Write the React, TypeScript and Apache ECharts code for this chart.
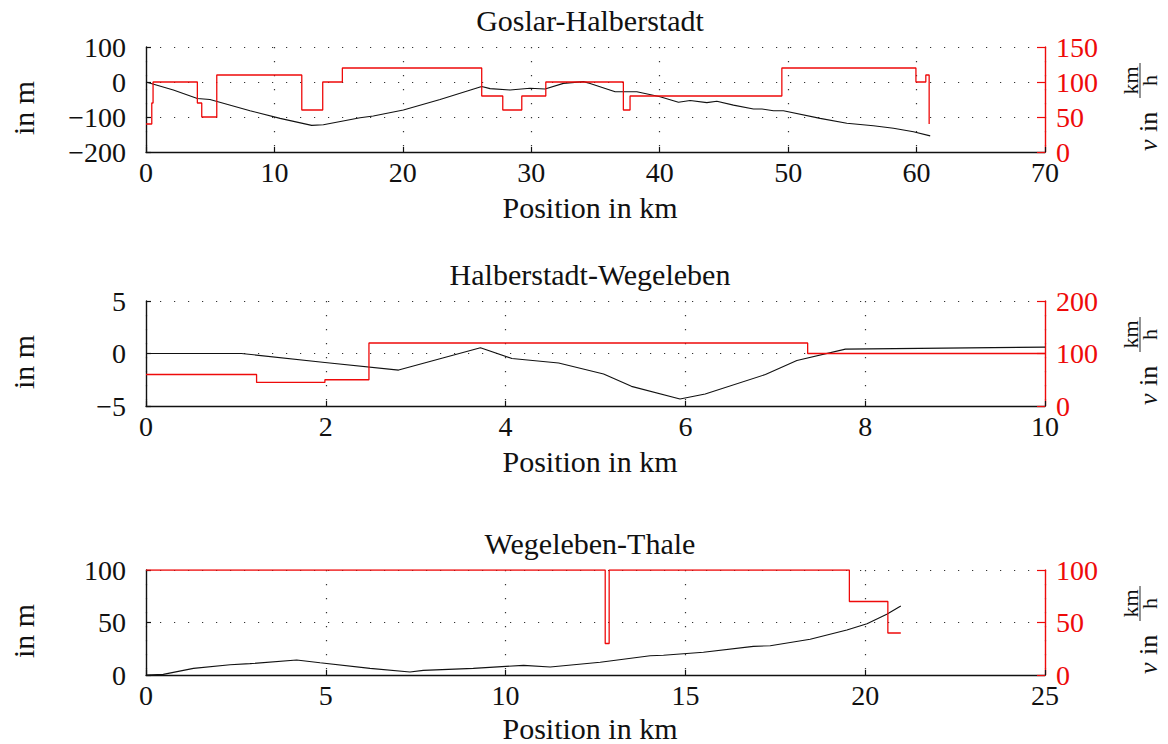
import { useEffect, useRef } from "react";
import * as echarts from "echarts";

// ---- Goslar-Halberstadt (70 km) ----
const GH_POS_KM = [0, 2.13, 4.0, 4.98, 8.1, 10.44, 12.9, 13.81, 16.67, 17.7, 20.04, 22.9, 26.14, 26.79, 28.35, 29.9, 31.07, 32.5, 34.06, 34.58, 36.53, 38.22, 40.03, 41.46, 42.37, 43.67, 44.45, 45.74, 47.3, 47.95, 48.86, 49.63, 52.49, 54.57, 56.64, 58.2, 59.76, 61.06];
const GH_ELEV_M = [0, -23, -47, -50, -82, -104, -124, -122, -102, -97, -80, -50, -13, -19, -23, -18, -20, -4, 1, -4, -28, -28, -42, -58, -53, -59, -55, -66, -77, -77, -82, -82, -104, -118, -125, -132, -142, -154];
const GH_LIMIT_KM = [0, 0.45, 0.55, 4.0, 4.34, 5.51, 12.13, 13.76, 15.29, 26.14, 27.78, 29.26, 31.13, 37.17, 37.69, 49.51, 59.95, 60.72, 60.98];
const GH_LIMIT_KMH = [40, 70, 100, 70, 50, 110, 60, 100, 120, 80, 60, 80, 100, 60, 80, 120, 100, 110, 40];

// ---- Halberstadt-Wegeleben (10 km) ----
const HW_POS_KM = [0, 1.06, 1.99, 2.81, 3.72, 4.07, 4.59, 5.09, 5.4, 5.94, 6.22, 6.89, 7.24, 7.78, 10];
const HW_ELEV_M = [0, 0, -0.85, -1.58, 0.54, -0.47, -0.91, -1.95, -3.13, -4.34, -3.86, -2.0, -0.66, 0.42, 0.61];
const HW_LIMIT_KM = [0, 1.23, 1.99, 2.48, 7.36, 10];
const HW_LIMIT_KMH = [60, 45, 50, 120, 100, 100];

// ---- Wegeleben-Thale (25 km) ----
const WT_POS_KM = [0, 0.48, 1.32, 2.34, 2.89, 4.19, 4.84, 6.23, 7.34, 7.71, 9.1, 10.5, 11.24, 12.63, 14.02, 14.39, 15.5, 16.89, 17.36, 18.47, 19.49, 20.05, 20.6, 20.99];
const WT_ELEV_M = [0, 0.6, 6.3, 9.8, 10.8, 14.3, 11.7, 6.3, 2.9, 4.4, 6.3, 9.2, 7.6, 12.1, 18.4, 18.8, 21.6, 27.3, 27.9, 34, 42.9, 48.9, 57.8, 65.7];
const WT_LIMIT_KM = [0, 12.77, 12.88, 19.56, 20.63, 20.99];
const WT_LIMIT_KMH = [100, 30, 100, 70, 40, 40];

const TITLES = ["Goslar-Halberstadt", "Halberstadt-Wegeleben", "Wegeleben-Thale"];
const X_MAX = [70, 10, 25];
const X_STEP = [10, 2, 5];
const ELEV_RANGE = [
  [-200, 100, 100],
  [-5, 5, 5],
  [0, 100, 50],
];
const SPEED_RANGE = [
  [0, 150, 50],
  [0, 200, 100],
  [0, 100, 50],
];

const PANELS = [
  { pos: GH_POS_KM, elev: GH_ELEV_M, lim: GH_LIMIT_KM, v: GH_LIMIT_KMH },
  { pos: HW_POS_KM, elev: HW_ELEV_M, lim: HW_LIMIT_KM, v: HW_LIMIT_KMH },
  { pos: WT_POS_KM, elev: WT_ELEV_M, lim: WT_LIMIT_KM, v: WT_LIMIT_KMH },
];

const FONT = '"Liberation Serif", "Times New Roman", serif';
const RED = "#ee0a0a";
const INK = "#111";
const PLOT_LEFT = 146;
const PLOT_WIDTH = 899;
const PLOT_HEIGHT = 105;
const PLOT_TOPS = [47, 301, 570];
const NAME_GAPS = [55, 55, 53];
const TICK_FS = 28;

const zip = (xs: number[], ys: number[]) => xs.map((x, i) => [x, ys[i]]);
const minus = (v: number) => String(v).replace("-", "\u2212");

const mid = { align: "center", textAlign: "center", verticalAlign: "middle", textVerticalAlign: "middle" };
const midLeft = { align: "left", textAlign: "left", verticalAlign: "middle", textVerticalAlign: "middle" };

// "v in km/h" with a stacked fraction, rotated to read bottom-to-top
function speedLabel(top: number) {
  const main = { fontFamily: FONT, fontSize: 26, fill: INK };
  const frac = { fontFamily: FONT, fontSize: 22, fill: INK };
  return {
    type: "group",
    x: 1157,
    y: top + 104,
    rotation: Math.PI / 2,
    children: [
      { type: "text", x: 0, y: -9, style: { ...main, ...midLeft, text: "v", fontStyle: "italic" } },
      { type: "text", x: 19, y: -9, style: { ...main, ...midLeft, text: "in" } },
      { type: "line", shape: { x1: 53, y1: -17, x2: 88, y2: -17 }, style: { stroke: INK, lineWidth: 0.9 } },
      { type: "text", x: 70.5, y: -27, style: { ...frac, ...mid, text: "km" } },
      { type: "text", x: 70.5, y: -8, style: { ...frac, ...mid, text: "h" } },
    ],
  };
}

function buildOption() {
  const grid = PLOT_TOPS.map((top) => ({ left: PLOT_LEFT, top, width: PLOT_WIDTH, height: PLOT_HEIGHT, containLabel: false }));
  const dotted = { color: "#333", width: 1.2, type: [1.2, 12.8] };

  const xAxis = PLOT_TOPS.map((_, i) => ({
    type: "value",
    gridIndex: i,
    min: 0,
    max: X_MAX[i],
    interval: X_STEP[i],
    axisLine: { show: true, onZero: false, lineStyle: { color: INK, width: 1.4 } },
    axisTick: { show: true, inside: true, length: 5, lineStyle: { color: INK, width: 1.2 } },
    axisLabel: { color: INK, fontFamily: FONT, fontSize: TICK_FS, margin: 6 },
    splitLine: { show: true, lineStyle: dotted },
  }));

  const yAxis: any[] = [];
  PLOT_TOPS.forEach((_, i) => {
    const [emin, emax, estep] = ELEV_RANGE[i];
    const [smin, smax, sstep] = SPEED_RANGE[i];
    yAxis.push({
      type: "value",
      gridIndex: i,
      position: "left",
      min: emin,
      max: emax,
      interval: estep,
      axisLine: { show: true, onZero: false, lineStyle: { color: INK, width: 1.4 } },
      axisTick: { show: true, inside: true, length: 5, lineStyle: { color: INK, width: 1.2 } },
      axisLabel: { color: INK, fontFamily: FONT, fontSize: TICK_FS, margin: 20, formatter: (v: number) => minus(v) },
      splitLine: { show: true, lineStyle: dotted },
    });
    yAxis.push({
      type: "value",
      gridIndex: i,
      position: "right",
      min: smin,
      max: smax,
      interval: sstep,
      axisLine: { show: true, onZero: false, lineStyle: { color: RED, width: 1.4 } },
      axisTick: { show: true, inside: true, length: 8, lineStyle: { color: RED, width: 1.2 } },
      axisLabel: { color: RED, fontFamily: FONT, fontSize: TICK_FS, margin: 11 },
      splitLine: { show: false },
    });
  });

  const series: any[] = [];
  PANELS.forEach((p, i) => {
    series.push({
      type: "line",
      xAxisIndex: i,
      yAxisIndex: 2 * i,
      data: zip(p.pos, p.elev),
      symbol: "none",
      lineStyle: { color: INK, width: 1.1 },
      z: 2,
    });
    series.push({
      type: "line",
      step: "end",
      xAxisIndex: i,
      yAxisIndex: 2 * i + 1,
      data: zip(p.lim, p.v),
      symbol: "none",
      lineStyle: { color: RED, width: 1.3 },
      z: 3,
    });
  });

  const center = 590;
  const graphic: any[] = [];
  PLOT_TOPS.forEach((top, i) => {
    const bottom = top + PLOT_HEIGHT;
    graphic.push({
      type: "text",
      x: center,
      y: top - 27,
      style: { ...mid, text: TITLES[i], fontFamily: FONT, fontSize: 30, fill: INK },
    });
    graphic.push({
      type: "text",
      x: center,
      y: bottom + NAME_GAPS[i],
      style: { ...mid, text: "Position in km", fontFamily: FONT, fontSize: 30, fill: INK },
    });
    graphic.push({
      type: "text",
      x: 23,
      y: top + 61,
      rotation: Math.PI / 2,
      style: { ...mid, text: "in m", fontFamily: FONT, fontSize: 30, fill: INK },
    });
    graphic.push(speedLabel(top));
  });

  return { animation: false, backgroundColor: "#fff", grid, xAxis, yAxis, series, graphic };
}

export default function App() {
  const ref = useRef<HTMLDivElement>(null);
  useEffect(() => {
    if (!ref.current) return;
    const chart = echarts.init(ref.current, undefined, { renderer: "svg" });
    chart.setOption(buildOption() as any);
    return () => chart.dispose();
  }, []);
  return <div ref={ref} style={{ position: "fixed", left: 0, top: 0, width: 1168, height: 744, background: "#fff" }} />;
}
